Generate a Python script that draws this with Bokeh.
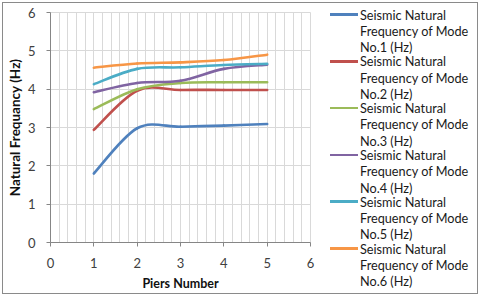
from bokeh.plotting import figure
from bokeh.layouts import row
from bokeh.models import Range1d, FixedTicker, Div
from bokeh.embed import file_html
from bokeh.resources import INLINE

piers = [1, 2, 3, 4, 5]
mode1 = [1.80, 2.98, 3.02, 3.05, 3.09]
mode2 = [2.94, 3.96, 3.98, 3.98, 3.98]
mode3 = [3.48, 4.00, 4.16, 4.18, 4.18]
mode4 = [3.92, 4.16, 4.22, 4.53, 4.64]
mode5 = [4.13, 4.53, 4.57, 4.63, 4.66]
mode6 = [4.56, 4.67, 4.70, 4.76, 4.90]
series = [mode1, mode2, mode3, mode4, mode5, mode6]
legend_lines = [["Seismic Natural", "Frequency of Mode", "No.%d (Hz)" % i] for i in range(1, 7)]
colors = ["#4F81BD", "#C0504D", "#9BBB59", "#8064A2", "#4BACC6", "#F79646"]
ticks = [0, 1, 2, 3, 4, 5, 6]
minor_x = [i / 5 for i in range(0, 31)]

FONT = "Lato"
GRID = "#D9D9D9"
AXIS = "#868686"

W, H = 318, 290
BL, BT, FW, FH = 43, 9, 264, 231

p = figure(width=W, height=H, output_backend="svg", toolbar_location=None,
           x_range=Range1d(0, 6), y_range=Range1d(0, 6),
           min_border_left=BL, min_border_right=W - BL - FW,
           min_border_top=BT, min_border_bottom=H - BT - FH)
p.outline_line_color = GRID
p.background_fill_color = "white"
p.border_fill_color = "white"

p.xaxis.ticker = FixedTicker(ticks=ticks, minor_ticks=minor_x)
p.yaxis.ticker = FixedTicker(ticks=ticks)
p.xgrid.grid_line_color = GRID
p.xgrid.minor_grid_line_color = GRID
p.ygrid.grid_line_color = GRID

for ax in (p.xaxis, p.yaxis):
    ax.axis_line_color = AXIS
    ax.major_tick_line_color = AXIS
    ax.minor_tick_line_color = None
    ax.major_tick_out = 4
    ax.major_tick_in = 0
    ax.major_label_text_font = FONT
    ax.major_label_text_font_size = "13px"
    ax.major_label_text_color = "#404040"
    ax.axis_label_text_font = FONT
    ax.axis_label_text_font_style = "bold"
    ax.axis_label_text_color = "#111111"
p.xaxis.axis_label_text_font_size = "12.5px"
p.yaxis.axis_label_text_font_size = "13.5px"
p.xaxis.major_label_standoff = 11
p.yaxis.major_label_standoff = 11
p.xaxis.axis_label_standoff = 5
p.yaxis.axis_label_standoff = 2
p.xaxis.axis_label = "Piers Number"
p.yaxis.axis_label = "Natural Frequancy (Hz)"


def smooth_segments(xs, ys):
    n = len(xs)
    x0, y0, x1, y1, cx0, cy0, cx1, cy1 = [], [], [], [], [], [], [], []
    for i in range(n - 1):
        ip = max(i - 1, 0)
        inx = min(i + 2, n - 1)
        x0.append(xs[i]); y0.append(ys[i])
        x1.append(xs[i + 1]); y1.append(ys[i + 1])
        cx0.append(xs[i] + (xs[i + 1] - xs[ip]) / 6)
        cy0.append(ys[i] + (ys[i + 1] - ys[ip]) / 6)
        cx1.append(xs[i + 1] - (xs[inx] - xs[i]) / 6)
        cy1.append(ys[i + 1] - (ys[inx] - ys[i]) / 6)
    return dict(x0=x0, y0=y0, x1=x1, y1=y1, cx0=cx0, cy0=cy0, cx1=cx1, cy1=cy1)


for ys, c in zip(series, colors):
    p.bezier(line_color=c, line_width=2.6, line_cap="round", **smooth_segments(piers, ys))

# legend as an HTML panel to the right of the plot
LW = 156
y_first = 11.5
line_gap = 16.3
entry_gap = 46.8
LINE_H = 14
parts = ['<div style="position:relative;width:%dpx;height:%dpx;font-family:%s;'
         'font-size:12.7px;color:#1a1a1a;">' % (LW, H, FONT)]
for i, (lines, c) in enumerate(zip(legend_lines, colors)):
    base = y_first + i * entry_gap
    parts.append('<div style="position:absolute;left:9px;top:%.1fpx;width:28px;height:2.6px;'
                 'background:%s;"></div>' % (base - 1.3, c))
    for k, t in enumerate(lines):
        parts.append('<div style="position:absolute;left:39px;top:%.1fpx;line-height:%dpx;'
                     'height:%dpx;white-space:nowrap;">%s</div>'
                     % (base + k * line_gap - LINE_H / 2, LINE_H, LINE_H, t))
parts.append('</div>')
legend_div = Div(text="".join(parts), width=LW, height=H, margin=0)

layout = row(p, legend_div)
layout.styles = {"border": "1px solid #8A8A8A", "margin": "2px 0 0 2px"}

open("out.html", "w").write(file_html(layout, INLINE))
